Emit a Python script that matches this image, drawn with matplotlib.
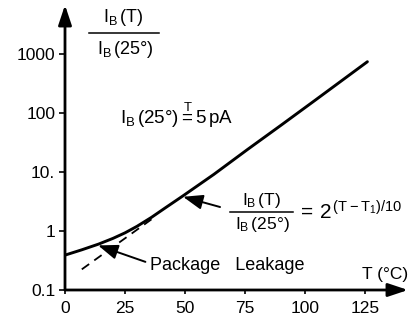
import matplotlib
matplotlib.use("Agg")
import matplotlib.pyplot as plt
from matplotlib.lines import Line2D

plt.rcParams['font.family'] = ['Liberation Sans', 'DejaVu Sans']
plt.rcParams['mathtext.fontset'] = 'custom'
plt.rcParams['mathtext.rm'] = 'Liberation Sans'
plt.rcParams['mathtext.it'] = 'Liberation Sans'

# Ratio I_B(T)/I_B(25°)
temp_solid = [0, 7, 14, 20, 25, 30, 36, 42, 49, 62, 76, 90, 104, 126]
ratio_solid = [0.39, 0.48, 0.6, 0.75, 0.93, 1.2, 1.7, 2.5, 3.9, 9.1, 24, 62, 162, 740]

# ideal exponential (dashed) segment
temp_dash = [7, 38]
ratio_dash = [0.224, 1.8]

xticks = [0, 25, 50, 75, 100, 125]
yticks = [0.1, 1, 10, 100, 1000]
ytick_labels = ["0.1", "1", "10.", "100", "1000"]

W, H = 410, 320
fig = plt.figure(figsize=(W / 100, H / 100), dpi=100)
ax = fig.add_axes([65 / W, 1 - 290 / H, 343 / W, 285 / H])
ax.set_yscale('log')
ax.set_xlim(0, 343 / 2.4)
ax.set_ylim(0.1, 10 ** (-1 + 285 / 59))

ax.plot(temp_solid, ratio_solid, color='k', lw=2.1, solid_capstyle='round',
        solid_joinstyle='round')
ax.plot(temp_dash, ratio_dash, color='k', lw=1.3, dashes=(5, 3.5))

for s in ax.spines.values():
    s.set_visible(False)
# axes with arrow heads
axis_kw = dict(arrowstyle='-|>,head_length=1.2,head_width=0.4', color='k', lw=2.0,
               shrinkA=0, shrinkB=0)
ax.annotate('', xy=(1, 0), xytext=(0, 0), xycoords='axes fraction',
            arrowprops=axis_kw, annotation_clip=False)
ax.annotate('', xy=(0, 1), xytext=(0, 0), xycoords='axes fraction',
            arrowprops=axis_kw, annotation_clip=False)

ax.set_xticks(xticks)
ax.set_xticklabels([str(t) for t in xticks])
ax.set_yticks(yticks)
ax.set_yticklabels(ytick_labels)
ax.minorticks_off()
ax.tick_params(axis='x', length=3, width=1.2, pad=5, labelsize=12.5)
ax.tick_params(axis='y', length=4, width=1.2, pad=3, labelsize=12.5)

# pointer arrows
arrow_kw = dict(arrowstyle='-|>,head_length=1.2,head_width=0.45', color='k', lw=1.4,
                shrinkA=0, shrinkB=0)
ax.annotate('', xy=(13.8, 0.57), xytext=(33.5, 0.30), arrowprops=arrow_kw)
ax.annotate('', xy=(49.2, 3.8), xytext=(64.6, 2.55), arrowprops=arrow_kw)


def px(x, y):
    return x / W, 1 - y / H


fs = 12.5
# top-left fraction
fig.text(*px(123, 18), r'$\mathregular{I_B\,(T)}$', ha='center', va='center', fontsize=fs + 0.5)
fig.add_artist(Line2D([89 / W, 159 / W], [1 - 33 / H] * 2, color='k', lw=1.1))
fig.text(*px(125, 50), r'$\mathregular{I_B\,(25°)}$', ha='center', va='center', fontsize=fs + 0.5)

fig.text(*px(120, 115), r'$\mathregular{I_B\,(25°)\overset{T}{=}5\,pA}$', ha='left',
         va='center', fontsize=fs + 1)

# formula next to the curve
fig.text(*px(262, 200), r'$\mathregular{I_B\,(T)}$', ha='center', va='center', fontsize=fs)
fig.add_artist(Line2D([230 / W, 293 / W], [1 - 212 / H] * 2, color='k', lw=1.1))
fig.text(*px(262, 225), r'$\mathregular{I_B\,(25°)}$', ha='center', va='center', fontsize=fs)
fig.text(*px(297, 212), r'$\mathregular{=\,2^{\,(T-T_1)/10}}$', ha='left', va='center',
         fontsize=15)

fig.text(*px(150, 265), 'Package   Leakage', ha='left', va='center', fontsize=fs + 0.5)
fig.text(*px(408, 275), 'T (°C)', ha='right', va='center', fontsize=fs)

fig.savefig('out.png', dpi=100)
